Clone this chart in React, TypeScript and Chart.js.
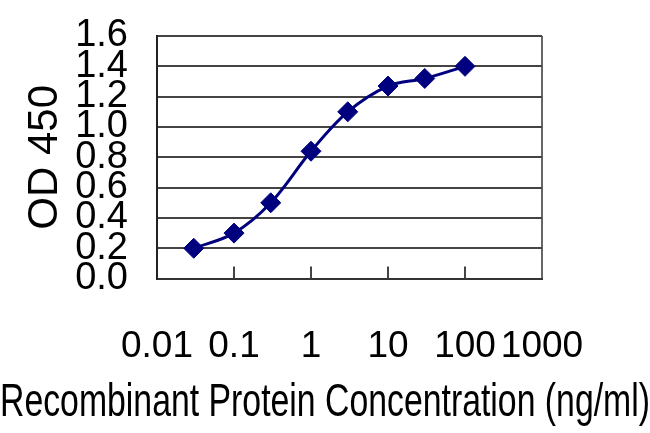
import React, { useEffect, useRef } from "react";
import { Chart, registerables } from "chart.js";

Chart.register(...registerables);

const concentrations = [0.03, 0.1, 0.3, 1, 3, 10, 30, 100];
const odValues = [0.2, 0.3, 0.5, 0.84, 1.1, 1.27, 1.32, 1.4];
const xTickValues = [0.01, 0.1, 1, 10, 100, 1000];
const xTickLabels = ["0.01", "0.1", "1", "10", "100", "1000"];
const yTickLabels = ["0.0", "0.2", "0.4", "0.6", "0.8", "1.0", "1.2", "1.4", "1.6"];
const xTitle = "Recombinant Protein Concentration (ng/ml)";
const yTitle = "OD 450";

const FONT = "'Liberation Sans Narrow', 'Liberation Sans', Arial, sans-serif";
const NAVY = "#00007f";

const innerTicks = {
  id: "innerTicks",
  afterDatasetsDraw(chart: any) {
    const xs = chart.scales.x;
    const { ctx, chartArea } = chart;
    ctx.save();
    ctx.strokeStyle = "#444";
    ctx.lineWidth = 2;
    xs.ticks.forEach((t: any, i: number) => {
      if (i === 0 || i === xs.ticks.length - 1) return;
      const px = xs.getPixelForValue(t.value);
      ctx.beginPath();
      ctx.moveTo(px, chartArea.bottom);
      ctx.lineTo(px, chartArea.bottom - 12);
      ctx.stroke();
    });
    ctx.restore();
  },
};

export default function App() {
  const ref = useRef<HTMLCanvasElement>(null);
  useEffect(() => {
    if (!ref.current) return;
    const chart = new Chart(ref.current, {
      type: "line",
      data: {
        datasets: [
          {
            data: concentrations.map((c, i) => ({ x: c, y: odValues[i] })),
            borderColor: NAVY,
            backgroundColor: NAVY,
            borderWidth: 3,
            pointStyle: "rectRot",
            pointRadius: 10,
            pointBorderWidth: 1,
            pointBackgroundColor: NAVY,
            pointBorderColor: NAVY,
            tension: 0.35,
            yAxisID: "y",
          },
        ],
      },
      options: {
        animation: false,
        responsive: false,
        layout: { padding: { top: 36, right: 0, bottom: 2, left: 0 } },
        plugins: {
          legend: { display: false },
          tooltip: { enabled: false },
          title: {
            display: true,
            position: "bottom",
            text: xTitle,
            color: "#000",
            font: { family: FONT, size: 47, weight: "normal" },
            padding: { top: 0, bottom: 0 },
          },
        },
        scales: {
          x: {
            type: "logarithmic",
            min: 0.01,
            max: 1000,
            afterBuildTicks: (scale: any) => {
              scale.ticks = xTickValues.map((v) => ({ value: v }));
            },
            afterFit: (scale: any) => {
              scale.height = 96;
            },
            ticks: {
              autoSkip: false,
              maxRotation: 0,
              padding: 46,
              color: "#000",
              font: { family: FONT, size: 37 },
              callback: (_v: any, i: number) => xTickLabels[i],
            },
            grid: {
              drawTicks: false,
              lineWidth: 2,
              color: (ctx: any) =>
                ctx.index === 0 || ctx.index === xTickValues.length - 1 ? "#666" : "rgba(0,0,0,0)",
            },
            border: { display: true, color: "#333", width: 2 },
          },
          y: {
            min: 0,
            max: 1.6,
            afterFit: (scale: any) => {
              scale.width = 157;
              scale.paddingTop = 0;
              scale.paddingBottom = 0;
            },
            ticks: {
              stepSize: 0.2,
              autoSkip: false,
              padding: 29,
              color: "#000",
              font: { family: FONT, size: 38 },
              callback: (_v: any, i: number) => yTickLabels[i],
            },
            grid: { drawTicks: false, lineWidth: 2, color: "#444" },
            border: { display: true, color: "#222", width: 2 },
            title: {
              display: true,
              text: yTitle,
              color: "#000",
              font: { family: FONT, size: 42 },
              padding: { top: 20, bottom: 0 },
            },
          },
          spacer: {
            type: "linear",
            position: "right",
            display: true,
            afterFit: (scale: any) => {
              scale.width = 108;
              scale.paddingTop = 0;
              scale.paddingBottom = 0;
            },
            ticks: { display: false },
            grid: { display: false },
            border: { display: false },
          },
        },
      },
      plugins: [innerTicks],
    });
    return () => chart.destroy();
  }, []);
  return (
    <div style={{ position: "fixed", left: 0, top: 0, width: 650, height: 433, background: "#fff" }}>
      <canvas ref={ref} width={650} height={433} />
    </div>
  );
}
